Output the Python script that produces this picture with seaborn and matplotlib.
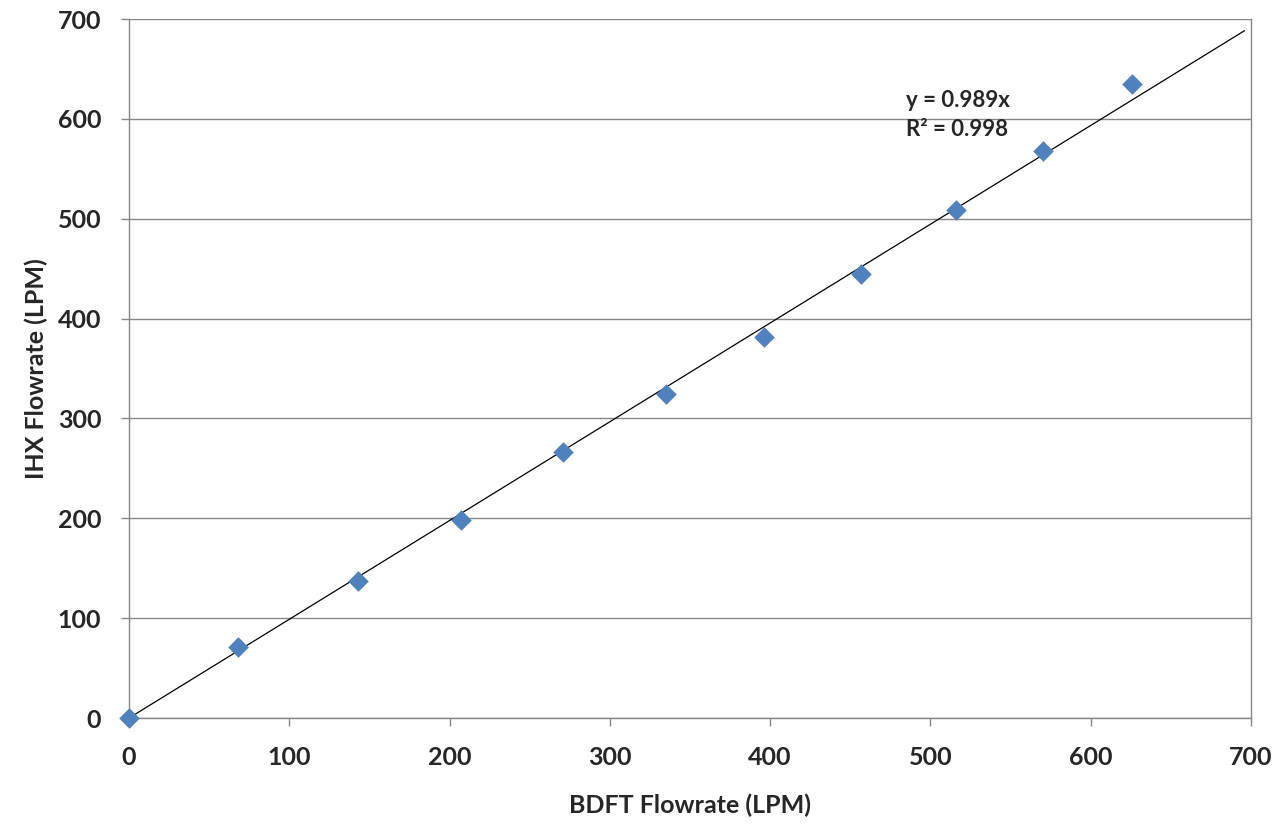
import matplotlib
matplotlib.use("Agg")
import matplotlib.pyplot as plt
import seaborn as sns
import numpy as np
import pandas as pd

bdft = [0, 68, 143, 207, 271, 335, 396, 457, 516, 570, 626]
ihx = [0, 71, 137, 198, 266, 324, 382, 445, 509, 568, 635]
slope = 0.989
trend_x = [0, 696]
x_ticks = [0, 100, 200, 300, 400, 500, 600, 700]
y_ticks = [0, 100, 200, 300, 400, 500, 600, 700]

sns.set_theme(style="white")
plt.rcParams['font.family'] = ['Lato', 'DejaVu Sans']

fig = plt.figure(figsize=(12.8, 8.24), dpi=100)
ax = fig.add_axes([0.1008, 0.1286, 0.8765, 0.8483])

df = pd.DataFrame({"x": bdft, "y": ihx})
tx = np.array(trend_x)
ax.plot(tx, slope * tx, color="black", lw=0.9, zorder=2)
sns.scatterplot(data=df, x="x", y="y", marker="D", s=110, color="#4F81BD",
                edgecolor="#4F81BD", linewidth=0, ax=ax, zorder=3, clip_on=False)

ax.set_xlim(0, 700)
ax.set_ylim(0, 700)
ax.set_xticks(x_ticks)
ax.set_yticks(y_ticks)
ax.yaxis.grid(True, color="#868686", lw=1)
ax.xaxis.grid(False)
for s in ["left", "bottom", "right", "top"]:
    ax.spines[s].set_color("#868686")
    ax.spines[s].set_linewidth(1)
ax.spines["top"].set_visible(False)
ax.tick_params(axis="both", which="major", direction="out", length=6, width=1,
               color="#868686", labelsize=18, bottom=True, left=True)
ax.tick_params(axis="x", pad=14)
ax.tick_params(axis="y", pad=14)
for lab in ax.get_xticklabels() + ax.get_yticklabels():
    lab.set_fontweight("bold")

ax.set_xlabel("BDFT Flowrate (LPM)", fontsize=18, fontweight="bold", labelpad=18)
ax.set_ylabel("IHX Flowrate (LPM)", fontsize=18, fontweight="bold", labelpad=7)

ax.text(485, 604, "y = 0.989x\nR² = 0.998", fontsize=16, fontweight="bold",
        va="center", ha="left", linespacing=1.45)

fig.savefig("out.png", dpi=100)
